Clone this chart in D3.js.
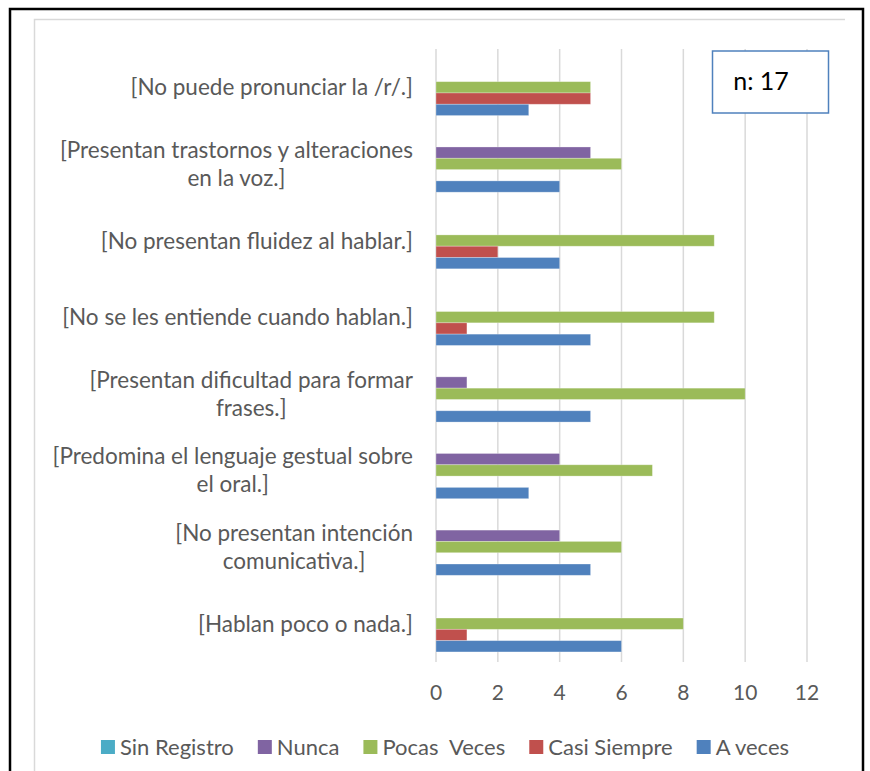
<!DOCTYPE html>
<html>
<head>
<meta charset="utf-8">
<script src="https://cdn.jsdelivr.net/npm/d3@7"></script>
<style>
  body { margin: 0; background: #fff; }
  text { font-family: Lato, "Liberation Sans", sans-serif; }
</style>
</head>
<body>
<svg id="chart" width="870" height="771"></svg>
<script>
// categories, top to bottom (\n = line break in the label)
const categories = [
    '[No puede pronunciar la /r/.]',
    '[Presentan trastornos y alteraciones\nen la voz.]',
    '[No presentan fluidez al hablar.]',
    '[No se les entiende cuando hablan.]',
    '[Presentan dificultad para formar\nfrases.]',
    '[Predomina el lenguaje gestual sobre\nel oral.]',
    '[No presentan intención\ncomunicativa.]',
    '[Hablan poco o nada.]'
];

const seriesNames = ['Sin Registro', 'Nunca', 'Pocas  Veces', 'Casi Siempre', 'A veces'];
const seriesColors = ['#4BACC6', '#8064A2', '#9BBB59', '#C0504D', '#4F81BD'];

const sinRegistro = [0, 0, 0, 0, 0, 0, 0, 0];
const nunca       = [0, 5, 0, 0, 1, 4, 4, 0];
const pocasVeces  = [5, 6, 9, 9, 10, 7, 6, 8];
const casiSiempre = [5, 0, 2, 1, 0, 0, 0, 1];
const aVeces      = [3, 4, 4, 5, 5, 3, 5, 6];

const xTicks = [0, 2, 4, 6, 8, 10, 12];
const sampleNote = 'n: 17';

const seriesValues = [sinRegistro, nunca, pocasVeces, casiSiempre, aVeces];

const svg = d3.select('#chart');

// outer frame + chart area border
svg.append('path')
    .attr('d', 'M10,771 V9 H863 V771')
    .style('fill', 'none')
    .style('stroke', '#000')
    .style('stroke-width', 2.5);
svg.append('path')
    .attr('d', 'M34.5,771 V19.5 H845')
    .style('fill', 'none')
    .style('stroke', '#d9d9d9')
    .style('stroke-width', 1.5);

// scales
const x = d3.scaleLinear().domain([0, 12]).range([436, 807]);
const y0 = d3.scaleBand().domain(categories).range([49, 662]);
const y1 = d3.scaleBand().domain(seriesNames)
    .range([0, y0.bandwidth()])
    .paddingOuter(0.89);

// gridlines
svg.append('g')
    .selectAll('line')
    .data(xTicks)
    .enter()
    .append('line')
    .attr('x1', d => x(d))
    .attr('x2', d => x(d))
    .attr('y1', 49)
    .attr('y2', 662)
    .style('stroke', '#d9d9d9')
    .style('stroke-width', 1.5);

// x axis tick labels
svg.append('g')
    .selectAll('text')
    .data(xTicks)
    .enter()
    .append('text')
    .attr('x', d => x(d))
    .attr('y', 700)
    .attr('text-anchor', 'middle')
    .style('font-size', '21px')
    .style('fill', '#595959')
    .text(d => d);

// bars
const bars = [];
categories.forEach((c, i) => {
    seriesNames.forEach((s, j) => {
        bars.push({ cat: c, series: s, value: seriesValues[j][i], color: seriesColors[j] });
    });
});

svg.append('g')
    .selectAll('rect')
    .data(bars.filter(d => d.value > 0))
    .enter()
    .append('rect')
    .attr('x', x(0))
    .attr('y', d => y0(d.cat) + y1(d.series))
    .attr('width', d => x(d.value) - x(0))
    .attr('height', y1.bandwidth())
    .style('fill', d => d.color)
    .style('stroke', 'rgba(255,255,255,0.35)')
    .style('stroke-width', 0.8);

// category labels: block right aligned, lines centred on each other
const labelRight = 413;
const lineH = 28;
categories.forEach(c => {
    const lines = c.split('\n');
    const g = svg.append('text')
        .style('font-size', '22.5px')
        .style('fill', '#595959');
    const cy = y0(c) + y0.bandwidth() / 2;
    const spans = lines.map((t, k) => g.append('tspan')
        .attr('y', cy + 8 + (k - (lines.length - 1) / 2) * lineH)
        .text(t));
    const widths = spans.map(s => s.node().getComputedTextLength());
    const maxW = d3.max(widths);
    const mid = labelRight - maxW / 2;
    spans.forEach(s => s.attr('x', mid).attr('text-anchor', 'middle'));
});

// sample size box
svg.append('rect')
    .attr('x', 712.5)
    .attr('y', 51)
    .attr('width', 116)
    .attr('height', 62)
    .style('fill', '#fff')
    .style('stroke', '#4F81BD')
    .style('stroke-width', 1.5);
svg.append('text')
    .attr('x', 761)
    .attr('y', 90)
    .attr('text-anchor', 'middle')
    .style('font-size', '25px')
    .style('fill', '#000')
    .text(sampleNote);

// legend
const legend = svg.append('g');
const items = seriesNames.map((s, i) => {
    const g = legend.append('g');
    g.append('rect')
        .attr('width', 14)
        .attr('height', 14)
        .attr('y', -7)
        .style('fill', seriesColors[i]);
    const t = g.append('text')
        .attr('x', 19)
        .attr('y', 8)
        .style('font-size', '22px')
        .style('fill', '#595959')
        .style('white-space', 'pre')
        .attr('xml:space', 'preserve')
        .text(s);
    return { g, w: 19 + t.node().getComputedTextLength() };
});
const gap = 24;
const total = d3.sum(items, d => d.w) + gap * (items.length - 1);
let lx = 445 - total / 2;
items.forEach(it => {
    it.g.attr('transform', `translate(${lx},747)`);
    lx += it.w + gap;
});
</script>
</body>
</html>
